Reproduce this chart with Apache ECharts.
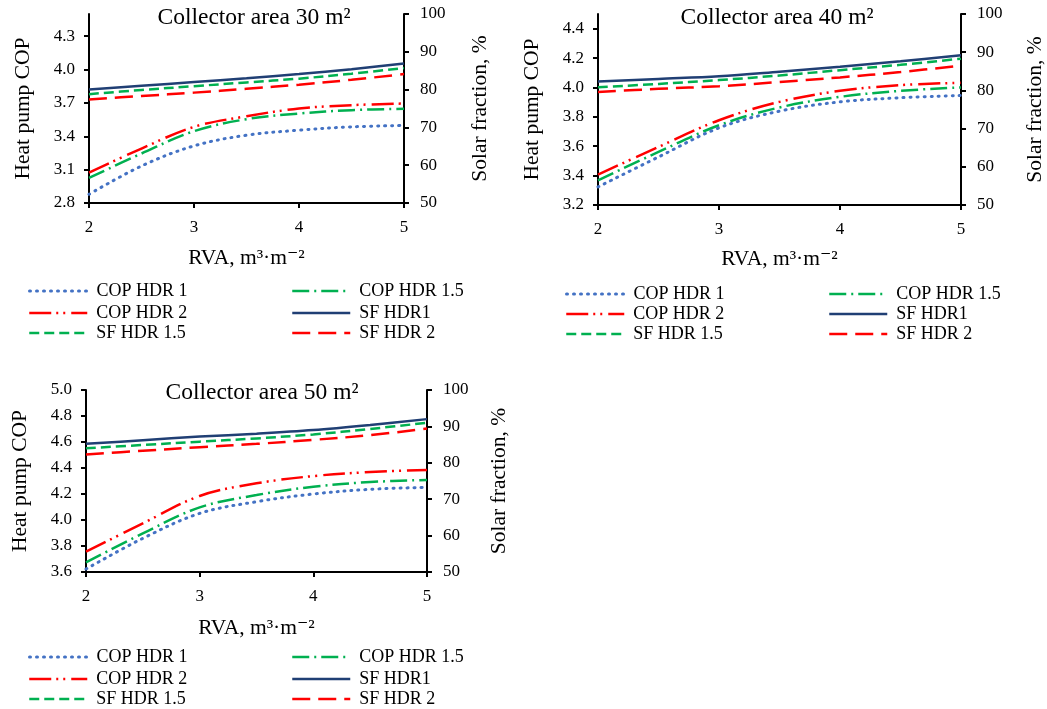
<!DOCTYPE html>
<html>
<head>
<meta charset="utf-8">
<script src="https://cdn.jsdelivr.net/npm/echarts@6/dist/echarts.min.js"></script>
<style>
html,body{margin:0;padding:0;background:#fff;}
#c{width:1047px;height:709px;}
</style>
</head>
<body>
<div id="c"></div>
<script>
// ---------- DATA ----------
const rva = [2, 2.5, 3, 3.5, 4, 4.5, 5];
const xTicks = [2, 3, 4, 5];
const seriesNames = ['COP HDR 1', 'COP HDR 1.5', 'COP HDR 2', 'SF HDR1', 'SF HDR 1.5', 'SF HDR 2'];
const titles = ['Collector area 30 m\u00B2', 'Collector area 40 m\u00B2', 'Collector area 50 m\u00B2'];

// Collector area 30 m2
const cop1_30  = [2.878, 3.133, 3.314, 3.410, 3.455, 3.485, 3.497];
const cop15_30 = [3.025, 3.245, 3.446, 3.554, 3.605, 3.635, 3.647];
const cop2_30  = [3.073, 3.290, 3.485, 3.580, 3.650, 3.680, 3.695];
const sf1_30   = [80.0, 81.0, 82.0, 83.0, 84.1, 85.4, 86.9];
const sf15_30  = [78.8, 79.9, 80.9, 81.9, 82.9, 84.2, 85.7];
const sf2_30   = [77.4, 78.3, 79.2, 80.2, 81.3, 82.6, 84.1];

// Collector area 40 m2
const cop1_40  = [3.323, 3.527, 3.725, 3.839, 3.902, 3.930, 3.945];
const cop15_40 = [3.368, 3.561, 3.743, 3.864, 3.936, 3.977, 4.000];
const cop2_40  = [3.407, 3.595, 3.777, 3.902, 3.977, 4.016, 4.032];
const sf1_40   = [82.3, 83.0, 83.7, 84.9, 86.2, 87.6, 89.2];
const sf15_40  = [80.8, 81.7, 82.7, 83.9, 85.3, 86.7, 88.3];
const sf2_40   = [79.6, 80.4, 81.1, 82.2, 83.4, 84.8, 86.5];

// Collector area 50 m2
const cop1_50  = [3.623, 3.859, 4.051, 4.141, 4.200, 4.236, 4.251];
const cop15_50 = [3.674, 3.897, 4.097, 4.192, 4.256, 4.292, 4.308];
const cop2_50  = [3.756, 3.974, 4.185, 4.282, 4.338, 4.369, 4.385];
const sf1_50   = [85.2, 86.2, 87.2, 88.0, 89.0, 90.4, 92.0];
const sf15_50  = [84.0, 84.9, 85.8, 86.7, 87.8, 89.3, 91.0];
const sf2_50   = [82.3, 83.3, 84.3, 85.2, 86.3, 87.6, 89.4];

// Axis tick labels
const copTicks30 = [2.8, 3.1, 3.4, 3.7, 4.0, 4.3];
const copTicks40 = [3.2, 3.4, 3.6, 3.8, 4.0, 4.2, 4.4];
const copTicks50 = [3.6, 3.8, 4.0, 4.2, 4.4, 4.6, 4.8, 5.0];
const sfTicks = [50, 60, 70, 80, 90, 100];

// ---------- LAYOUT / STYLE ----------
const FONT = '"Liberation Serif", "Times New Roman", "DejaVu Serif", serif';
const styles = [
  {color: '#4472C4', width: 3, type: [1, 6], cap: 'round'},
  {color: '#00B050', width: 2.5, type: [17, 5, 2, 5]},
  {color: '#FF0000', width: 2.5, type: [22, 5, 2, 5, 2, 6]},
  {color: '#203F74', width: 2.5, type: 'solid'},
  {color: '#00B050', width: 2.5, type: [10, 5]},
  {color: '#FF0000', width: 2.5, type: [18, 8]}
];

const panels = [
  {grid: {left: 89, top: 14, width: 315, height: 189}, copMin: 2.8, copMax: 4.5, copTicks: copTicks30,
   data: [cop1_30, cop15_30, cop2_30, sf1_30, sf15_30, sf2_30], title: [254, 18],
   legendX: [28, 291], legendY: [290, 312, 332], leftGap: 55, rightGap: 65, xGap: 44},
  {grid: {left: 598, top: 14, width: 365, height: 191}, copMin: 3.2, copMax: 4.5, copTicks: copTicks40,
   data: [cop1_40, cop15_40, cop2_40, sf1_40, sf15_40, sf2_40], title: [777, 18],
   legendX: [565, 828], legendY: [293, 313, 333], leftGap: 55, rightGap: 63, xGap: 43},
  {grid: {left: 86, top: 390, width: 341, height: 182}, copMin: 3.6, copMax: 5.0, copTicks: copTicks50,
   data: [cop1_50, cop15_50, cop2_50, sf1_50, sf15_50, sf2_50], title: [262, 393],
   legendX: [28, 291], legendY: [656, 678, 698], leftGap: 55, rightGap: 61, xGap: 45}
];

const axisLine = {show: true, lineStyle: {color: '#000', width: 2}};
const tickStyle = {show: true, length: 5, lineStyle: {color: '#000', width: 2}};
const labelStyle = {color: '#000', fontFamily: FONT, fontSize: 17};
const nameStyle = {color: '#000', fontFamily: FONT, fontSize: 21.5};

const grid = [], xAxis = [], yAxis = [], series = [], legend = [], graphic = [];
panels.forEach((p, i) => {
  grid.push(Object.assign({containLabel: false}, p.grid));
  xAxis.push({
    type: 'value', gridIndex: i, min: 2, max: 5, interval: 1,
    axisLine, axisTick: Object.assign({customValues: xTicks}, tickStyle),
    axisLabel: Object.assign({margin: 16, customValues: xTicks}, labelStyle),
    splitLine: {show: false},
    name: 'RVA, m\u00B3\u00B7m\u207B\u00B2', nameLocation: 'middle', nameGap: p.xGap,
    nameTextStyle: nameStyle
  });
  yAxis.push({
    type: 'value', gridIndex: i, position: 'left', min: p.copMin, max: p.copMax,
    axisLine, axisTick: Object.assign({customValues: p.copTicks}, tickStyle),
    axisLabel: Object.assign({margin: 14, customValues: p.copTicks, formatter: v => v.toFixed(1)}, labelStyle),
    splitLine: {show: false},
    name: 'Heat pump COP', nameLocation: 'middle', nameGap: p.leftGap, nameRotate: 90,
    nameTextStyle: nameStyle
  });
  yAxis.push({
    type: 'value', gridIndex: i, position: 'right', min: 50, max: 100, interval: 10,
    axisLine, axisTick: Object.assign({customValues: sfTicks}, tickStyle),
    axisLabel: Object.assign({margin: 16, customValues: sfTicks}, labelStyle),
    splitLine: {show: false},
    name: 'Solar fraction, %', nameLocation: 'middle', nameGap: p.rightGap, nameRotate: 90,
    nameTextStyle: nameStyle
  });
  seriesNames.forEach((nm, k) => {
    const st = styles[k];
    series.push({
      type: 'line', name: nm, xAxisIndex: i, yAxisIndex: 2 * i + (k < 3 ? 0 : 1),
      data: rva.map((x, j) => [x, p.data[k][j]]),
      smooth: 0.35, symbol: 'none', silent: true, animation: false,
      lineStyle: {color: st.color, width: st.width, type: st.type, cap: st.cap || 'butt'},
      itemStyle: {color: st.color},
      z: 10 - k
    });
    const col = k % 2, row = Math.floor(k / 2);
    legend.push({
      data: [nm], left: p.legendX[col], top: p.legendY[row] - 8,
      padding: 0, itemWidth: 58, itemHeight: 14, selectedMode: false,
      itemStyle: {opacity: 0},
      lineStyle: {width: st.width, type: st.type, cap: st.cap || 'butt', opacity: 1},
      textStyle: {color: '#000', fontFamily: FONT, fontSize: 18, padding: [0, 0, 0, 4]}
    });
  });
  graphic.push({
    type: 'text', x: p.title[0], y: p.title[1],
    style: {text: titles[i], fill: '#000', font: '23.5px ' + FONT, align: 'center', verticalAlign: 'middle'}
  });
});

const chart = echarts.init(document.getElementById('c'), null, {renderer: 'canvas'});
chart.setOption({
  animation: false,
  backgroundColor: '#fff',
  grid, xAxis, yAxis, series, legend, graphic
});
</script>
</body>
</html>
